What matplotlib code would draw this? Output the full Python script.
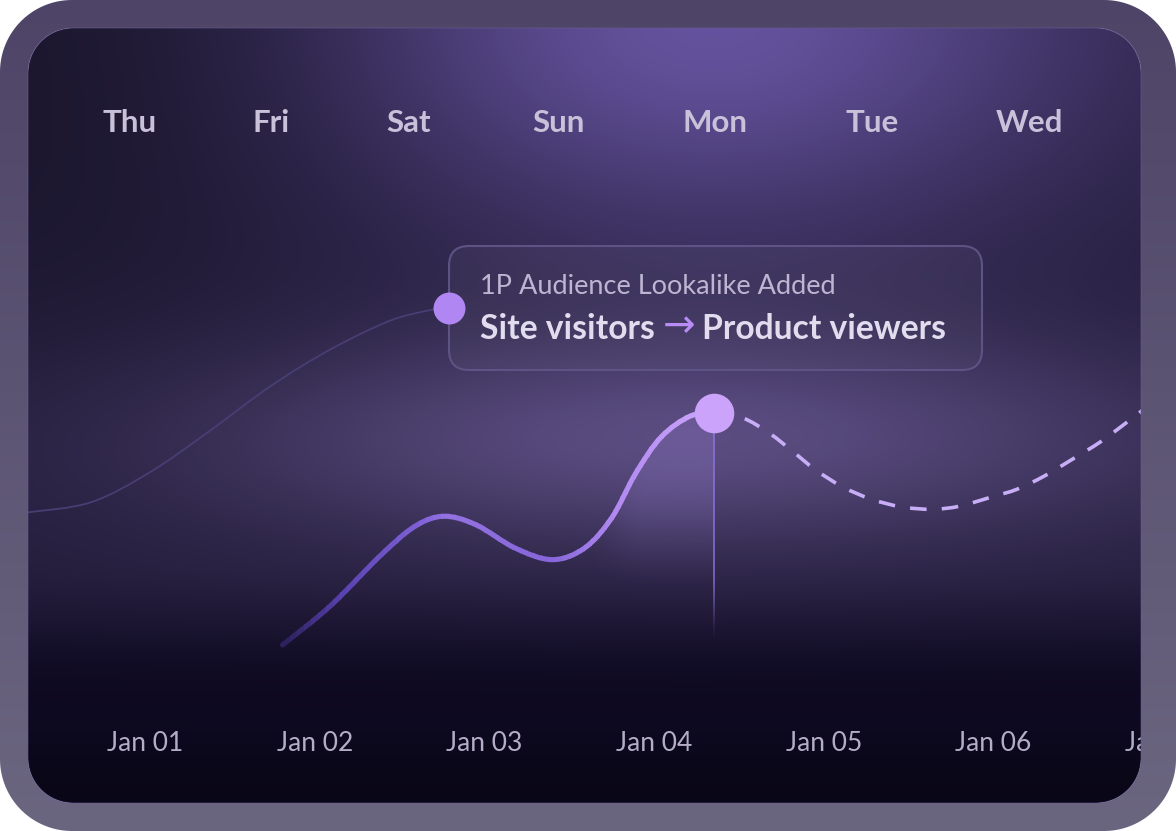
import numpy as np
import matplotlib
matplotlib.use('Agg')
import matplotlib.pyplot as plt
from matplotlib.patches import PathPatch, FancyBboxPatch, Rectangle
from matplotlib.path import Path
from matplotlib.collections import LineCollection
from matplotlib.colors import LinearSegmentedColormap, to_rgb

plt.rcParams['font.family'] = ['Lato', 'DejaVu Sans']

W, H = 1176, 831

# data (x in days from Jan 01, y as index 0-100)
date_labels = ['Jan 01', 'Jan 02', 'Jan 03', 'Jan 04', 'Jan 05', 'Jan 06', 'Jan 07']
day_labels = ['Thu', 'Fri', 'Sat', 'Sun', 'Mon', 'Tue', 'Wed']

previous_x = [-0.69, -0.32, 0.03, 0.38, 0.74, 1.09, 1.44, 1.68, 1.79]
previous_y = [37.5, 38.8, 42.7, 48.0, 53.8, 58.5, 62.2, 63.6, 63.9]

actual_x = [0.81, 1.09, 1.39, 1.59, 1.76, 1.95, 2.18, 2.40, 2.59, 2.75, 2.89, 3.04, 3.21, 3.35]
actual_y = [20.4, 25.4, 32.0, 35.7, 37.0, 35.9, 32.9, 31.4, 32.9, 36.8, 42.5, 47.2, 49.9, 50.3]

forecast_x = [3.35, 3.52, 3.68, 3.82, 3.95, 4.11, 4.28, 4.46, 4.64, 4.80, 4.99,
              5.14, 5.30, 5.46, 5.63, 5.79, 5.92]
forecast_y = [50.3, 49.7, 47.7, 45.3, 43.0, 40.8, 39.2, 38.2, 37.9, 38.3, 39.5,
              40.5, 42.2, 44.3, 46.6, 49.2, 51.4]

event_title = '1P Audience Lookalike Added'
event_from = 'Site visitors'
event_to = 'Product viewers'

XMIN, XMAX = -0.69, 6.075


def smooth(t):
    t = np.clip(t, 0, 1)
    return t * t * (3 - 2 * t)


def rounded_rect(x0, y0, x1, y1, r, n=40):
    parts = []
    for cx, cy, a0 in [(x1 - r, y0 + r, -90), (x1 - r, y1 - r, 0),
                       (x0 + r, y1 - r, 90), (x0 + r, y0 + r, 180)]:
        t = np.radians(np.linspace(a0, a0 + 90, n))
        parts.append(np.column_stack([cx + r * np.cos(t), cy + r * np.sin(t)]))
    v = np.vstack(parts)
    return np.vstack([v, v[:1]])


def curve(x, y):
    # bezier path through the points (catmull-rom tangents)
    p = np.column_stack([x, y])
    e = np.vstack([p[0], p, p[-1]])
    verts, codes = [p[0]], [Path.MOVETO]
    for i in range(len(p) - 1):
        p0, p1, p2, p3 = e[i], e[i + 1], e[i + 2], e[i + 3]
        verts += [p1 + (p2 - p0) / 6, p2 - (p3 - p1) / 6, p2]
        codes += [Path.CURVE4] * 3
    return Path(verts, codes)


outer = rounded_rect(0, 0, W, H, 72)
inner = rounded_rect(28, 28, 1141, 803, 45)

# background of the panel
yy, xx = np.mgrid[0:H, 0:W] + 0.5
dark = np.array([0.055, 0.038, 0.13])
mid = np.array([0.14, 0.115, 0.235])
V = 1 - smooth((yy - 560) / 140)
bg = dark + (mid - dark) * V[..., None]
glow = np.exp(-((xx - 700) / 400) ** 2 - ((yy - 20) / 220) ** 2)
bg += glow[..., None] * np.array([0.26, 0.21, 0.39])
band = np.exp(-((yy - 440) / 110) ** 2) * np.exp(-((xx - 680) / 520) ** 2)
bg += band[..., None] * np.array([0.21, 0.18, 0.26])
bg *= (1 - 0.28 * np.exp(-((xx - 28) / 380) ** 2 - ((yy - 60) / 320) ** 2))[..., None]
bg *= (1 - 0.3 * smooth((yy - 700) / 100))[..., None]
bg = np.clip(bg, 0, 1)

ftop = np.array(to_rgb('#4e4467'))
fbot = np.array(to_rgb('#6b6680'))
frame = ftop + (fbot - ftop) * (yy / H)[..., None]

fig = plt.figure(figsize=(W / 100, H / 100), dpi=100, facecolor='white')

bgax = fig.add_axes([0, 0, 1, 1], zorder=0)
bgax.set_xlim(0, W)
bgax.set_ylim(H, 0)
bgax.axis('off')
panel = PathPatch(Path(inner, closed=True), facecolor='none', edgecolor='none',
                  transform=bgax.transData)
bgax.add_patch(panel)
im = bgax.imshow(bg, extent=(0, W, H, 0), origin='upper', interpolation='bilinear')
im.set_clip_path(panel)

# annotation box
box = FancyBboxPatch((449, 246), 533, 124, boxstyle='round,pad=0,rounding_size=20',
                     facecolor=(1, 1, 1, 0.035), edgecolor='#5d5385', lw=1.5, zorder=2)
bgax.add_patch(box)
bgax.text(480, 287, event_title, ha='left', va='center', fontsize=19.5,
          fontweight='normal', color='#bdb5d2', zorder=3)
t_from = bgax.text(480, 329, event_from, ha='left', va='center', fontsize=24.2,
                   fontweight='bold', color='#e2ddee', zorder=3)
renderer = fig.canvas.get_renderer()
x_arrow = 480 + t_from.get_window_extent(renderer).width + 8
t_arrow = bgax.text(x_arrow, 326, '\u2192', ha='left', va='center', fontsize=28,
                    family='DejaVu Sans', color='#b88cf5', zorder=3)
x_to = x_arrow + t_arrow.get_window_extent(renderer).width + 7
bgax.text(x_to, 329, event_to, ha='left', va='center', fontsize=24.2,
          fontweight='bold', color='#e2ddee', zorder=3)

# chart axes (extends under the right frame so the last date is cut by it)
ax = fig.add_axes([28 / W, (H - 803) / H, (W - 28) / W, (803 - 28) / H], zorder=1)
ax.patch.set_alpha(0)
for s in ax.spines.values():
    s.set_visible(False)

ax.set_xticks(range(len(date_labels)), date_labels)
ax.set_yticks([])
ax.tick_params(axis='x', length=0, pad=-43, labelsize=19, labelcolor='#b5adc8')
for lab in ax.get_xticklabels():
    lab.set_va('center')
ax.set_xlim(XMIN, XMAX)
ax.set_ylim(0, 100)

ax.add_patch(PathPatch(curve(previous_x, previous_y), fill=False, edgecolor='#483e74',
                       lw=1.3, zorder=2))

poly = ax.fill_between(actual_x, actual_y, 0, facecolor='none', edgecolor='none')
gx, gy = np.meshgrid(np.linspace(XMIN, XMAX, 400), np.linspace(0, 100, 400))
shade = np.zeros(gx.shape + (4,))
shade[..., :3] = to_rgb('#a48ae6')
shade[..., 3] = 0.22 * smooth((gx - 2.55) / 0.4) * smooth((gy - 26) / 16)
sim = ax.imshow(shade, extent=(XMIN, XMAX, 0, 100), origin='lower', aspect='auto',
                interpolation='bilinear', zorder=1)
sim.set_clip_path(poly.get_paths()[0], transform=ax.transData)

# drop line under the last actual point
drop_y = np.linspace(actual_y[-1], 20, 60)
drop_segs = [[(actual_x[-1], drop_y[i]), (actual_x[-1], drop_y[i + 1])] for i in range(59)]
drop_cols = np.zeros((59, 4))
drop_cols[:, :3] = to_rgb('#9676ea')
drop_cols[:, 3] = 0.9 * smooth((drop_y[1:] - 20) / 10)
ax.add_collection(LineCollection(drop_segs, colors=drop_cols, linewidths=1.1, zorder=2))

# actual line with a colour ramp, drawn in narrow strips
cmap = LinearSegmentedColormap.from_list('trend', [
    (0, '#2a2058'), (0.14, '#5a42b0'), (0.32, '#8062d8'), (0.38, '#9472e2'),
    (0.62, '#8565d8'), (0.78, '#b28af2'), (1, '#cca6fa')])
actual_path = curve(actual_x, actual_y)
edges = np.linspace(actual_x[0], actual_x[-1], 61)
for i in range(60):
    x0 = edges[i] - (0.1 if i == 0 else 0)
    x1 = edges[i + 1] + (0.1 if i == 59 else 0.006)
    strip = Rectangle((x0, -10), x1 - x0, 120, transform=ax.transData)
    pp = PathPatch(actual_path, fill=False, edgecolor=cmap((i + 0.5) / 60), lw=3.7,
                   capstyle='round', joinstyle='round', zorder=3)
    ax.add_patch(pp)
    pp.set_clip_path(strip)

ax.add_patch(PathPatch(curve(forecast_x, forecast_y), fill=False, edgecolor='#c7aef6',
                       lw=2.6, linestyle=(0, (4.6, 4.2)), capstyle='butt', zorder=3))

ax.plot([previous_x[-1]], [previous_y[-1]], 'o', ms=23, color='#b086f2', mec='none', zorder=5)
ax.plot([actual_x[-1]], [actual_y[-1]], 'o', ms=28.5, color='#cca3fa', mec='none', zorder=5)

# weekday row, positioned relative to the panel width
panel_w = (1141 - 28) / (W - 28)
day_pos = [0.0916, 0.2183, 0.3423, 0.4762, 0.6173, 0.7583, 0.8994]
for p, lab in zip(day_pos, day_labels):
    ax.text(p * panel_w, 0.8774, lab, transform=ax.transAxes, ha='center', va='center',
            fontsize=22.5, fontweight='bold', color='#c9c1d9')

# frame on top
top = fig.add_axes([0, 0, 1, 1], zorder=2)
top.set_xlim(0, W)
top.set_ylim(H, 0)
top.axis('off')
ring = PathPatch(Path.make_compound_path(Path(outer, closed=True), Path(inner[::-1], closed=True)),
                 facecolor='none', edgecolor='none', transform=top.transData)
top.add_patch(ring)
fim = top.imshow(frame, extent=(0, W, H, 0), origin='upper', interpolation='bilinear')
fim.set_clip_path(ring)
top.add_patch(PathPatch(Path(inner, closed=True), facecolor='none', edgecolor='#6a5c96',
                        lw=0.8, alpha=0.5))

fig.savefig('out.png', dpi=100, facecolor='white')
